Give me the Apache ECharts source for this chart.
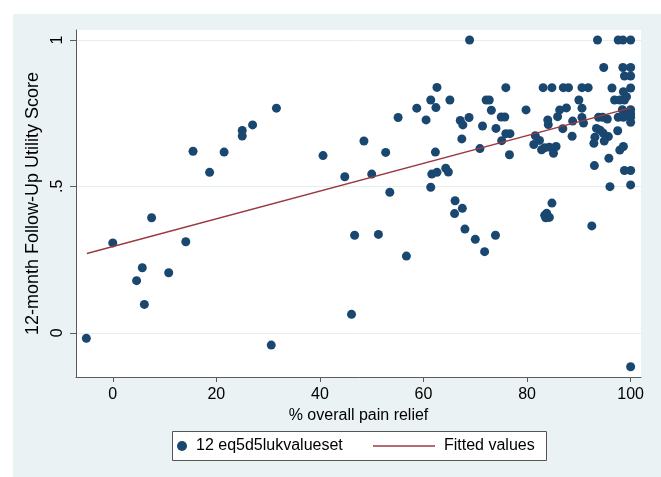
<!DOCTYPE html>
<html><head><meta charset="utf-8">
<script src="https://cdn.jsdelivr.net/npm/echarts@6/dist/echarts.min.js"></script>
<style>
html,body{margin:0;padding:0;background:#fff}
#wrap{position:relative;width:661px;height:477px;overflow:hidden}
#bg{position:absolute;left:13px;top:14px;right:0;bottom:0;background:#eaf2f3}
#chart{position:absolute;left:0;top:0;width:661px;height:477px}
</style></head><body>
<div id="wrap"><div id="bg"></div><div id="chart"></div></div>
<script>
const painRelief = [
 -5.1,0,4.6,5.7,6.1,7.5,10.8,14.1,15.5,18.7,21.5,25.0,25.0,27.0,30.6,31.6,
 40.6,44.8,46.1,46.7,48.5,50.0,51.3,52.7,53.5,55.1,56.7,58.7,60.5,61.4,61.4,61.6,
 62.4,62.6,62.3,62.6,64.3,64.8,65.1,66.1,66.0,67.5,67.1,67.6,67.4,68.0,68.9,68.8,
 70.0,70.9,71.4,71.8,72.1,72.7,73.1,73.9,74.0,75.0,75.7,75.1,75.9,75.9,76.7,76.6,79.8,
 81.6,81.3,82.4,82.8,83.4,84.3,85.1,85.6,83.1,84.8,84.0,84.1,85.9,86.3,87.6,86.9,
 87.0,88.0,88.8,88.7,90.0,90.6,90.6,90.9,90.6,91.8,92.5,83.4,83.8,84.3,83.6,84.8,
 93.6,97.6,98.5,100,94.8,98.5,100,98.8,100,96.4,100,98.6,96.9,97.9,98.8,99.2,
 98.4,99.2,100,100,97.6,98.6,100,100,93.8,94.6,95.5,97.5,93.4,94.1,94.7,95.7,
 93.1,92.9,94.9,98.6,97.9,95.8,93.0,98.8,100,96.0,100,100
];
const utilityScore = [
 -0.019,0.307,0.178,0.222,0.097,0.393,0.205,0.311,0.620,0.548,0.617,0.691,0.672,0.710,-0.042,0.767,
 0.605,0.533,0.063,0.333,0.655,0.542,0.336,0.616,0.480,0.735,0.262,0.767,0.727,0.795,0.497,0.542,
 0.769,0.838,0.617,0.548,0.562,0.549,0.795,0.451,0.407,0.425,0.725,0.710,0.662,0.354,1.0,0.735,
 0.319,0.629,0.706,0.277,0.795,0.795,0.760,0.333,0.698,0.737,0.737,0.656,0.837,0.680,0.680,0.608,0.761,
 0.673,0.643,0.657,0.625,0.632,0.634,0.613,0.636,0.837,0.837,0.727,0.711,0.738,0.761,0.768,0.697,
 0.837,0.837,0.723,0.671,0.795,0.767,0.735,0.716,0.837,0.837,0.365,0.401,0.408,0.394,0.393,0.443,
 1.0,1.0,1.0,1.0,0.906,0.906,0.906,0.877,0.877,0.836,0.836,0.823,0.795,0.795,0.795,0.806,
 0.762,0.752,0.762,0.748,0.736,0.736,0.736,0.719,0.736,0.736,0.730,0.690,0.698,0.692,0.682,0.670,
 0.668,0.647,0.655,0.636,0.624,0.596,0.571,0.554,0.554,0.499,0.505,-0.116
];
const fittedX = [-5, 100];
const fittedY = [0.271, 0.768];
const xTicks = [0, 20, 40, 60, 80, 100];
const yTicks = [0, 0.5, 1];
const yTickLabels = ['0', '.5', '1'];

const scatterData = painRelief.map((x, i) => [x, utilityScore[i]]);
const lineData = fittedX.map((x, i) => [x, fittedY[i]]);
const FONT = '"Liberation Sans", Arial, sans-serif';
const chart = echarts.init(document.getElementById('chart'), null, {renderer: 'canvas'});
chart.setOption({
  backgroundColor: 'transparent',
  animation: false,
  textStyle: {fontFamily: FONT},
  grid: {left: 76, right: 20, top: 30, bottom: 100, show: true, backgroundColor: '#ffffff', borderWidth: 0},
  graphic: [{
    type: 'rect', left: 172, top: 431, z: 0,
    shape: {width: 374, height: 29},
    style: {fill: '#ffffff', stroke: '#555555', lineWidth: 1}
  }],
  legend: [{
    data: ['12 eq5d5lukvalueset'], left: 177, top: 438, z: 5, padding: 0,
    icon: 'circle', itemWidth: 10, itemHeight: 10,
    textStyle: {fontSize: 16, color: '#000', fontFamily: FONT, padding: [0, 0, 0, 4]}
  }, {
    data: ['Fitted values'], left: 373, top: 438, z: 5, padding: 0,
    icon: 'rect', itemWidth: 62, itemHeight: 1.5,
    textStyle: {fontSize: 16, color: '#000', fontFamily: FONT, padding: [0, 0, 0, 4]}
  }],
  xAxis: {
    type: 'value', min: -7.1, max: 102,
    name: '% overall pain relief', nameLocation: 'middle', nameGap: 28,
    nameTextStyle: {fontSize: 16, color: '#000', fontFamily: FONT},
    axisLine: {onZero: false, lineStyle: {color: '#5a5a5a', width: 1}},
    axisTick: {customValues: xTicks, length: 5, lineStyle: {color: '#5a5a5a'}},
    axisLabel: {customValues: xTicks, fontSize: 16, color: '#000', margin: 10, fontFamily: FONT},
    splitLine: {show: false}
  },
  yAxis: {
    type: 'value', min: -0.151, max: 1.034,
    name: '12-month Follow-Up Utility Score', nameLocation: 'middle', nameGap: 34,
    nameTextStyle: {fontSize: 18, color: '#000', fontFamily: FONT},
    axisLine: {show: true, onZero: false, lineStyle: {color: '#5a5a5a', width: 1}},
    axisTick: {show: true, customValues: yTicks, length: 6, lineStyle: {color: '#5a5a5a'}},
    axisLabel: {customValues: yTicks, rotate: 90, fontSize: 16, color: '#000', margin: 10, fontFamily: FONT,
      formatter: v => { const i = yTicks.findIndex(t => Math.abs(t - v) < 1e-9); return i >= 0 ? yTickLabels[i] : ''; }},
    splitLine: {show: true, lineStyle: {color: '#e4eef1', width: 1}}
  },
  series: [{
    name: '12 eq5d5lukvalueset', type: 'scatter', data: scatterData,
    symbol: 'circle', symbolSize: 9,
    itemStyle: {color: '#1a476f', opacity: 1}, z: 3
  }, {
    name: 'Fitted values', type: 'line', data: lineData,
    symbol: 'none', lineStyle: {color: '#9a3a3f', width: 1.5}, itemStyle: {color: '#9a3a3f'}, z: 4
  }]
});
</script>
</body></html>
